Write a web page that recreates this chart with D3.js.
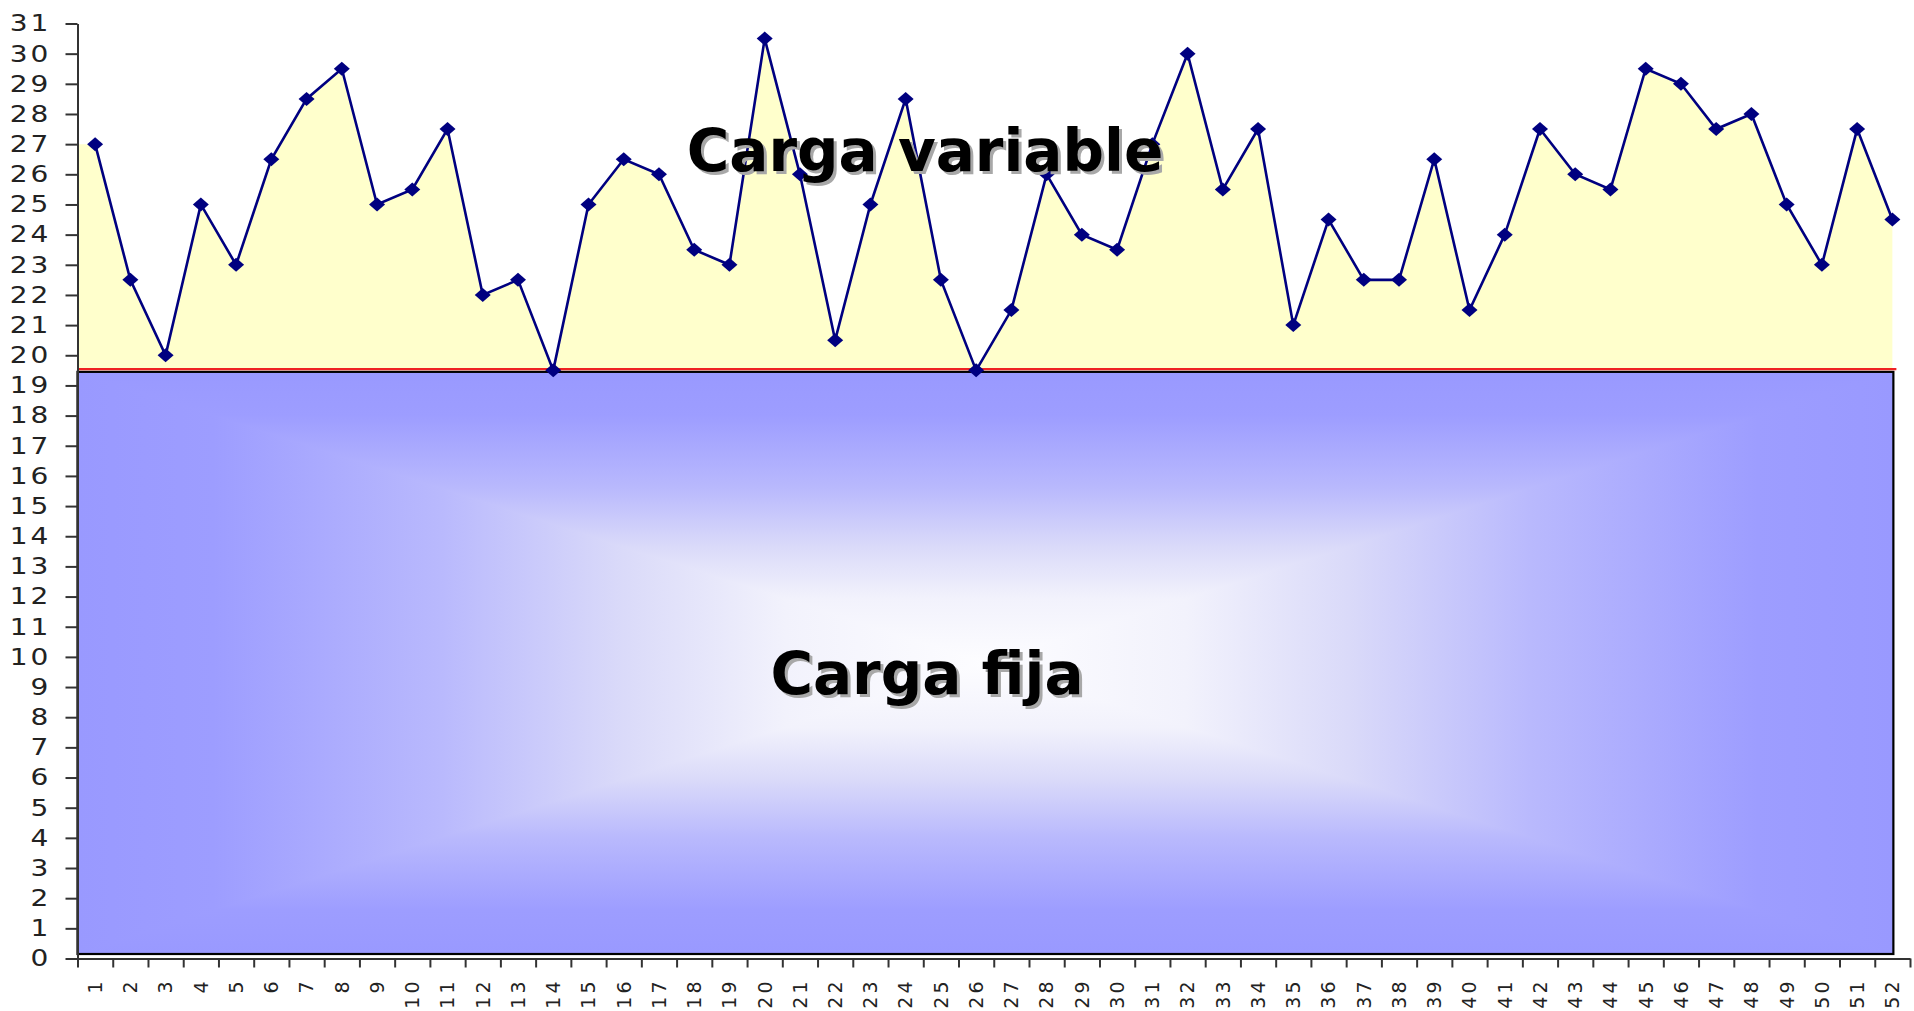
<!DOCTYPE html>
<html>
<head>
<meta charset="utf-8">
<script src="https://cdn.jsdelivr.net/npm/d3@7"></script>
<style>
  html, body { margin: 0; padding: 0; background: #fff; }
  svg { display: block; }
</style>
</head>
<body>
<svg id="chart" width="1914" height="1011"></svg>
<script>
// ---------- data ----------
const categories = ["1","2","3","4","5","6","7","8","9","10","11","12","13","14","15","16","17","18","19","20",
  "21","22","23","24","25","26","27","28","29","30","31","32","33","34","35","36","37","38","39","40",
  "41","42","43","44","45","46","47","48","49","50","51","52"];
const cargaVariable = [27,22.5,20,25,23,26.5,28.5,29.5,25,25.5,27.5,22,22.5,19.5,25,26.5,26,23.5,23,30.5,
  26,20.5,25,28.5,22.5,19.5,21.5,26,24,23.5,27,30,25.5,27.5,21,24.5,22.5,22.5,26.5,21.5,
  24,27.5,26,25.5,29.5,29,27.5,28,25,23,27.5,24.5];
const cargaFija = 19.5;
const yTicks = [0,1,2,3,4,5,6,7,8,9,10,11,12,13,14,15,16,17,18,19,20,21,22,23,24,25,26,27,28,29,30,31];
const labelVariable = "Carga variable";
const labelFija = "Carga fija";

(function () {
// ---------- layout ----------
const svg = d3.select("#chart");
const pLeft = 77.5, pRight = 1910, pTop = 23.5, pBottom = 958.5;

const x = d3.scaleBand().domain(categories).range([pLeft, pRight]).padding(0);
const xb = d3.scaleLinear().domain([0, categories.length]).range([pLeft, pRight]);
const y = d3.scaleLinear().domain([0, 31]).range([pBottom, pTop]);
const cx = c => x(c) + x.bandwidth() / 2;

const defs = svg.append("defs");

// ---------- yellow area (variable load) ----------
const areaPts = [[pLeft, cargaVariable[0]]].concat(categories.map((c, i) => [cx(c), cargaVariable[i]]));
const area = d3.area().x(d => d[0]).y0(y(cargaFija)).y1(d => y(d[1]));
svg.append("path").datum(areaPts).attr("d", area).attr("fill", "#FFFFCC");

// ---------- fixed load rectangle with rectangular "from centre" gradient ----------
const lastX = cx(categories[categories.length - 1]);
const rx = pLeft, ry = y(cargaFija) + 1.5, rw = lastX + 1 - pLeft, rh = (pBottom - 4.5) - ry;
const ccx = rx + rw / 2, ccy = ry + rh / 2;
const stops = [[0, "#9999FF"], [0.15, "#9D9DFF"], [0.4, "#B9B9FD"], [0.6, "#DADAF9"], [0.78, "#F2F2FC"], [1, "#FDFDFF"]];
function grad(id, x1, y1, x2, y2) {
  const g = defs.append("linearGradient").attr("id", id).attr("gradientUnits", "userSpaceOnUse")
    .attr("x1", x1).attr("y1", y1).attr("x2", x2).attr("y2", y2);
  stops.forEach(s => g.append("stop").attr("offset", s[0]).attr("stop-color", s[1]));
}
grad("gTop", 0, ry, 0, ccy);
grad("gBot", 0, ry + rh, 0, ccy);
grad("gLeft", rx, 0, ccx, 0);
grad("gRight", rx + rw, 0, ccx, 0);
const fixG = svg.append("g");
const tri = (pts, id) => fixG.append("path").attr("d", "M" + pts.map(p => p.join(",")).join("L") + "Z")
  .attr("fill", `url(#${id})`).attr("shape-rendering", "crispEdges");
tri([[rx, ry], [rx + rw, ry], [ccx, ccy]], "gTop");
tri([[rx, ry + rh], [rx + rw, ry + rh], [ccx, ccy]], "gBot");
tri([[rx, ry], [rx, ry + rh], [ccx, ccy]], "gLeft");
tri([[rx + rw, ry], [rx + rw, ry + rh], [ccx, ccy]], "gRight");
fixG.append("rect").attr("x", rx).attr("y", ry).attr("width", rw).attr("height", rh)
  .attr("fill", "none").attr("stroke", "#000").attr("stroke-width", 2.2);

// red line at the fixed level
svg.append("line").attr("x1", pLeft).attr("x2", lastX + 4)
  .attr("y1", y(cargaFija) - 1.2).attr("y2", y(cargaFija) - 1.2)
  .attr("stroke", "#EE2222").attr("stroke-width", 2.2);

// ---------- line + markers ----------
const line = d3.line().x((d, i) => cx(categories[i])).y(d => y(d));
svg.append("path").datum(cargaVariable).attr("d", line)
  .attr("fill", "none").attr("stroke", "#000080").attr("stroke-width", 2.6);
svg.append("g").selectAll("path").data(cargaVariable).join("path")
  .attr("transform", (d, i) => `translate(${cx(categories[i])},${y(d)})`)
  .attr("d", "M0,-7L8,0L0,7L-8,0Z")
  .attr("fill", "#000080");

// ---------- axes ----------
const yAxis = d3.axisLeft(y).tickValues(yTicks).tickSize(12).tickPadding(17).tickSizeOuter(0);
const gy = svg.append("g").attr("transform", `translate(${pLeft},0)`).call(yAxis);
gy.select(".domain").attr("stroke", "#333").attr("stroke-width", 2);
gy.selectAll(".tick line").attr("stroke", "#333").attr("stroke-width", 2);
gy.selectAll(".tick text")
  .attr("font-family", "DejaVu Sans, Verdana, sans-serif")
  .attr("font-size", 23).attr("fill", "#222")
  .attr("letter-spacing", 2.5)
  .attr("x", 0).attr("dx", 0)
  .attr("transform", "translate(-26,0) scale(1.22,1)");

const xTickAxis = d3.axisBottom(xb).tickValues(d3.range(0, categories.length + 1)).tickSize(9).tickFormat("").tickSizeOuter(0);
const gx = svg.append("g").attr("transform", `translate(0,${pBottom})`).call(xTickAxis);
gx.select(".domain").attr("stroke", "#333").attr("stroke-width", 2);
gx.selectAll(".tick line").attr("stroke", "#333").attr("stroke-width", 2);

const xLabAxis = d3.axisBottom(x).tickSize(0).tickSizeOuter(0);
const gxl = svg.append("g").attr("transform", `translate(0,${pBottom})`).call(xLabAxis);
gxl.select(".domain").remove();
gxl.selectAll(".tick text")
  .attr("font-family", "DejaVu Sans, Verdana, sans-serif")
  .attr("font-size", 19).attr("fill", "#222")
  .attr("letter-spacing", 3)
  .attr("text-anchor", "end")
  .attr("transform", "rotate(-90)")
  .attr("x", -20).attr("y", 0).attr("dy", "0.36em");

// ---------- big labels ----------
function bigLabel(txt, xp, yp, size) {
  const g = svg.append("g").attr("font-family", "DejaVu Sans, Verdana, sans-serif")
    .attr("font-weight", "bold").attr("font-size", size).attr("text-anchor", "middle");
  g.append("text").attr("x", xp + 3).attr("y", yp + 3).attr("fill", "#A8A8A8").text(txt);
  g.append("text").attr("x", xp).attr("y", yp).attr("fill", "#000").text(txt);
}
bigLabel(labelVariable, 925, 171, 58);
bigLabel(labelFija, 927, 694, 58);
})();
</script>
</body>
</html>
